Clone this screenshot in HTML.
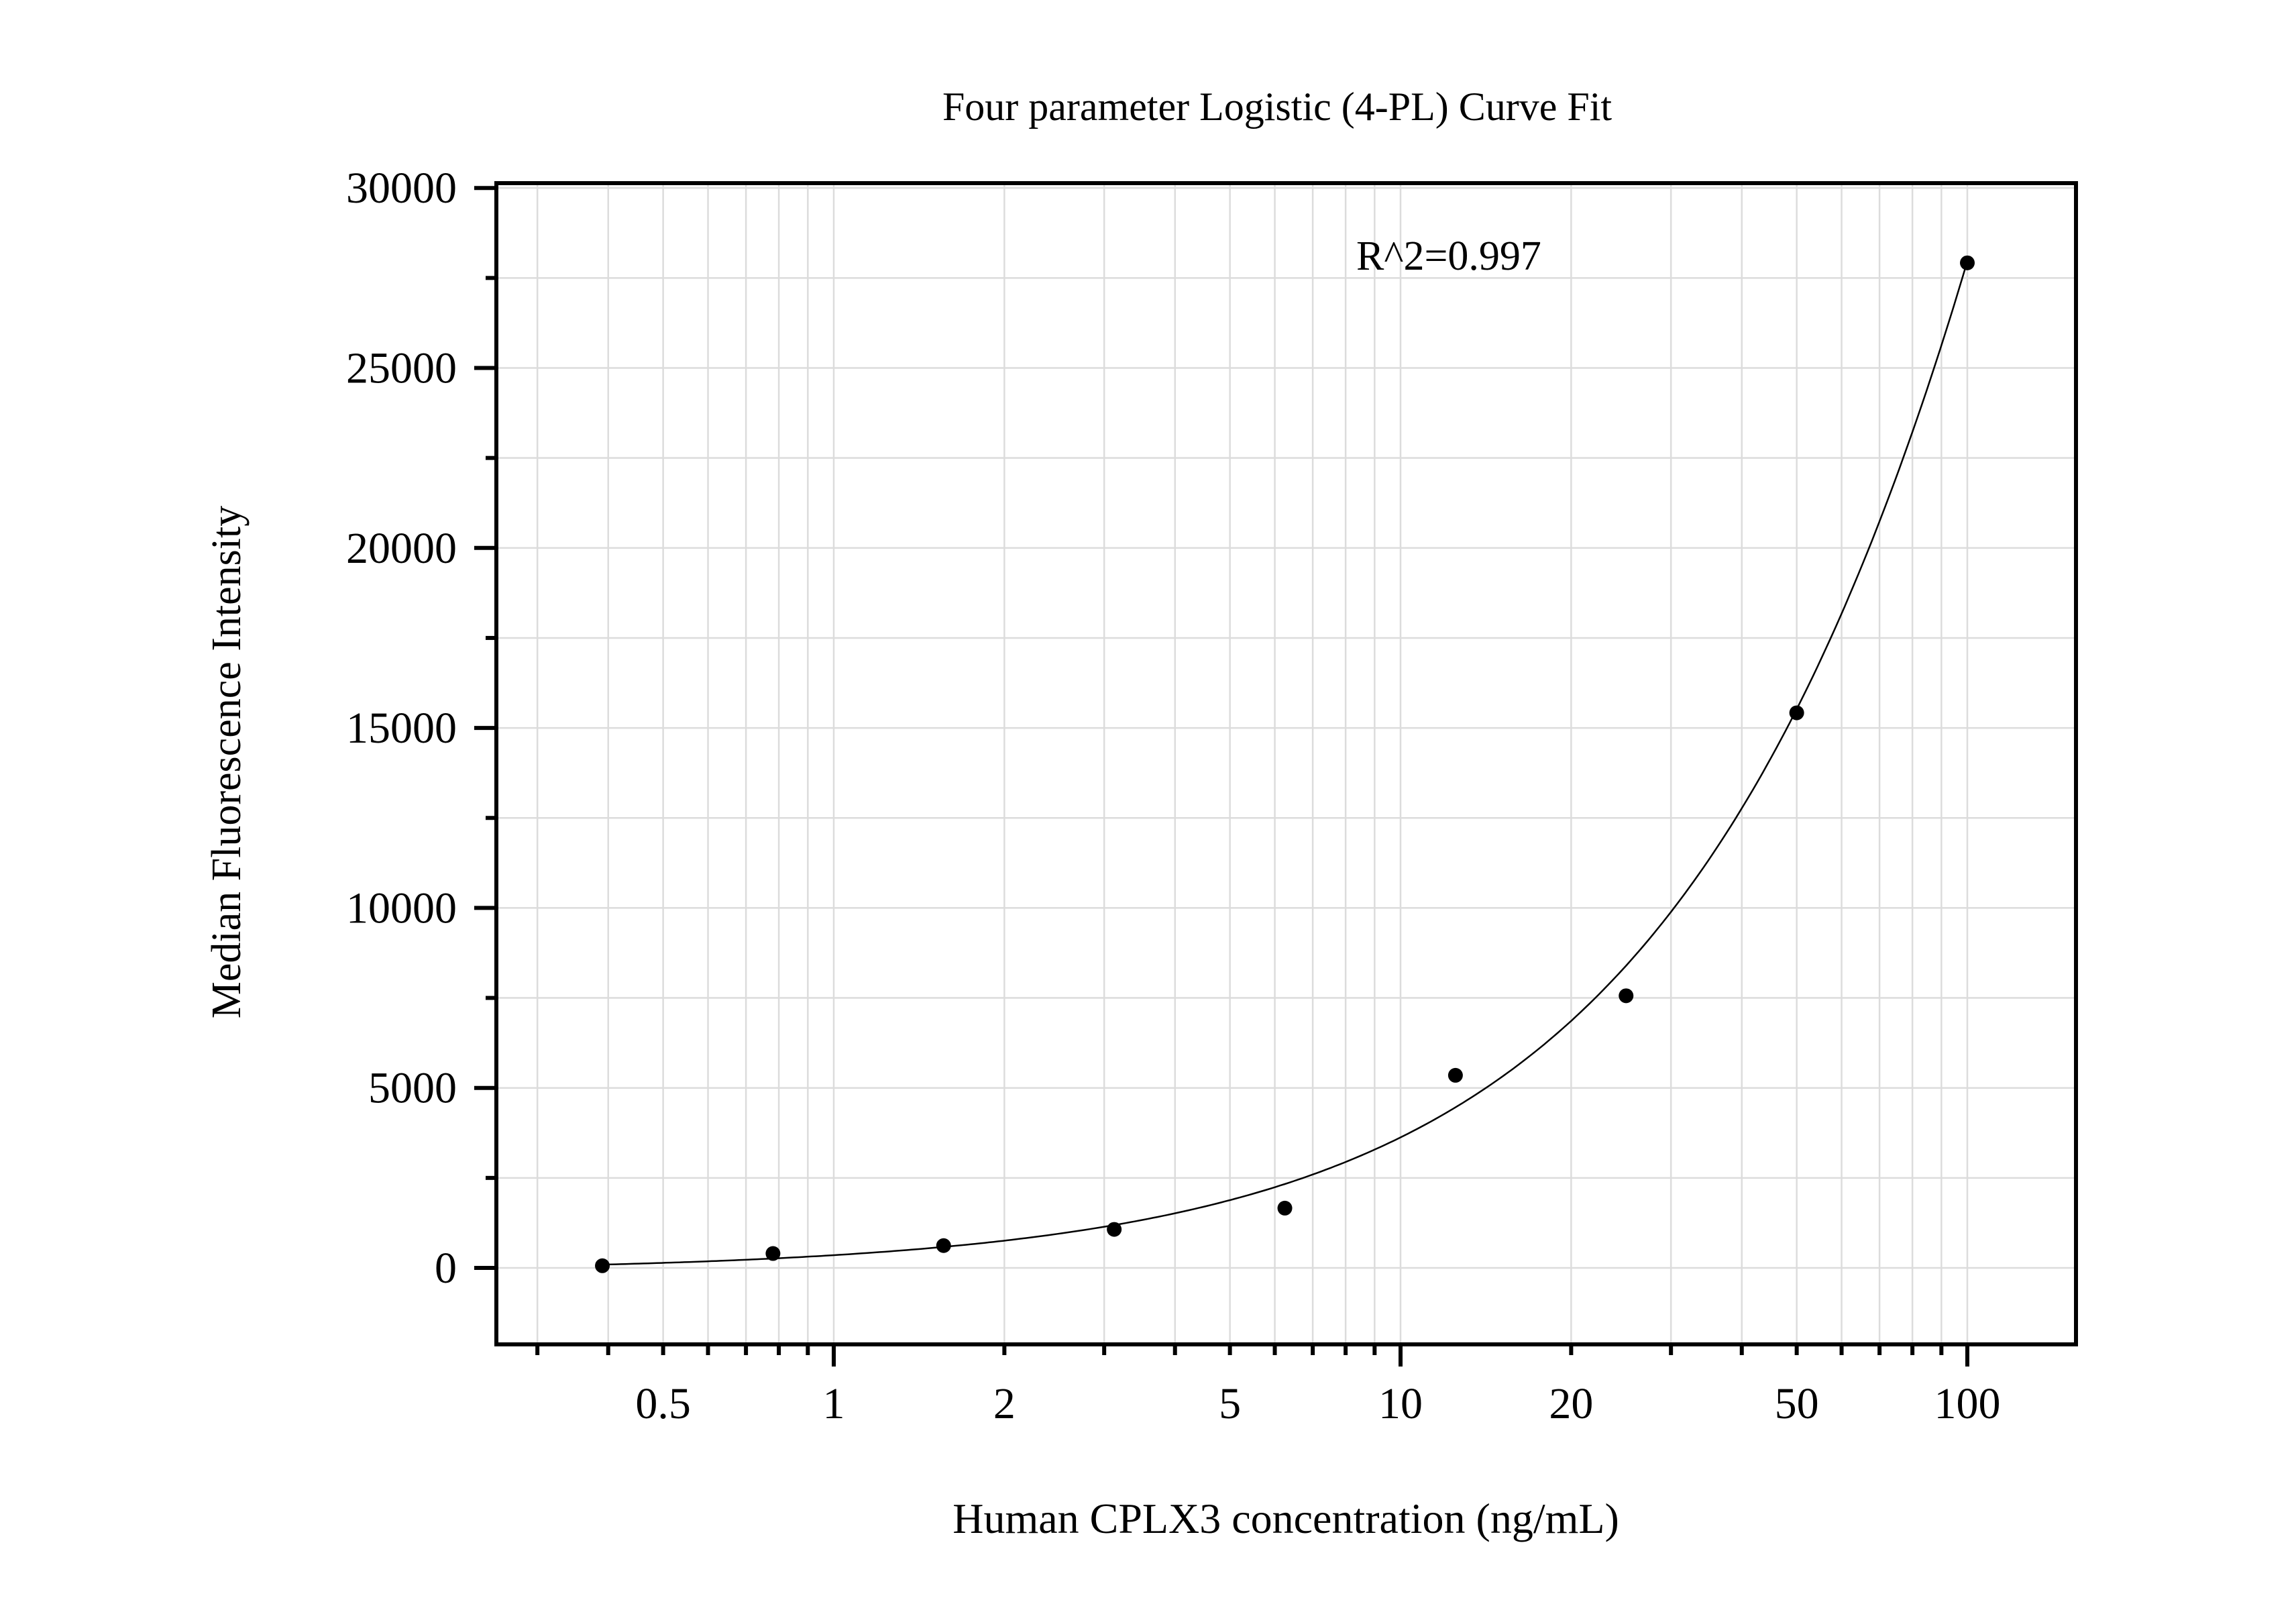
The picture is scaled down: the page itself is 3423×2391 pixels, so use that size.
<!DOCTYPE html>
<html><head><meta charset="utf-8"><style>
html,body{margin:0;padding:0;background:#fff;}
svg{display:block;font-family:"Liberation Serif",serif;}
</style></head><body>
<svg id="chart" width="3423" height="2391" viewBox="0 0 3423 2391" xmlns="http://www.w3.org/2000/svg">
<rect width="3423" height="2391" fill="#fff"/>
<g id="grid"></g>
<g id="ticks"></g>
<g id="series"></g>
<rect x="740" y="273" width="2355" height="1731" fill="none" stroke="#000" stroke-width="6"/>
<text x="1904" y="179" font-size="60" text-anchor="middle">Four parameter Logistic (4-PL) Curve Fit</text>
<text x="2022" y="402" font-size="62">R^2=0.997</text>
<text x="1917" y="2285" font-size="64" text-anchor="middle">Human CPLX3 concentration (ng/mL)</text>
<text x="0" y="0" font-size="62" text-anchor="middle" transform="translate(358,1136) rotate(-90)">Median Fluorescence Intensity</text>
</svg>
<script>
const concentrations = [0.390625, 0.78125, 1.5625, 3.125, 6.25, 12.5, 25, 50, 100];
const mfiValues = [60, 400, 620, 1070, 1660, 5350, 7560, 15420, 27920];
const fitParams = [-100, 0.92, 1000, 261400]; // a (bottom), b (slope), c (ec50), d (top)
const yTickValues = [0, 5000, 10000, 15000, 20000, 25000, 30000];
const xTickLabels = ["0.5", "1", "2", "5", "10", "20", "50", "100"];
const xTickValues = [0.5, 1, 2, 5, 10, 20, 50, 100];

const NS = "http://www.w3.org/2000/svg";
const L = 740, R = 3095, T = 273, B = 2004;
const X1 = 1243, DEC = 845;
const Y0 = 1890, PER = 268.3 / 5000;
function xs(v){ return X1 + Math.log10(v) * DEC; }
function ys(v){ return Y0 - v * PER; }
function mk(tag, attrs, parent){ const e = document.createElementNS(NS, tag); for (const k in attrs) e.setAttribute(k, attrs[k]); parent.appendChild(e); return e; }

const grid = document.getElementById('grid');
const ticks = document.getElementById('ticks');
const series = document.getElementById('series');

// vertical grid + x ticks
for (let e = -1; e <= 2; e++) {
  for (let m = 1; m <= 9; m++) {
    const v = m * Math.pow(10, e);
    const x = xs(v);
    if (x < L + 2 || x > R - 2) continue;
    const g = mk('line', {x1:x, x2:x, y1:T, y2:B, stroke:'#dcdcdc', 'stroke-width':2.5}, grid);
    
    
    const major = (m === 1);
    const t = mk('line', {x1:x, x2:x, y1:B, y2:B + (major ? 33 : 16), stroke:'#000', 'stroke-width':6}, ticks);
    
    
  }
}
// horizontal grid + y ticks
for (let v = 0; v <= 30000; v += 2500) {
  const y = ys(v);
  const g = mk('line', {x1:L, x2:R, y1:y, y2:y, stroke:'#dcdcdc', 'stroke-width':2.5}, grid);
  
  
  const major = (v % 5000 === 0);
  const t = mk('line', {x1:L - (major ? 33 : 16), x2:L, y1:y, y2:y, stroke:'#000', 'stroke-width':6}, ticks);
  
  
}
yTickValues.forEach(v => {
  const t = mk('text', {x:681, y:ys(v) + 22, 'font-size':66, 'text-anchor':'end'}, ticks);
  t.textContent = String(v);
  
  
});
xTickValues.forEach((v, i) => {
  const t = mk('text', {x:xs(v), y:2114, 'font-size':66, 'text-anchor':'middle'}, ticks);
  t.textContent = xTickLabels[i];
  
  
});

// fit curve
function fourPL(x){ const [a,b,c,d] = fitParams; const u = Math.pow(x / c, b); return a + (d - a) * u / (1 + u); }
let dstr = '';
const lo = Math.log10(concentrations[0]), hi = Math.log10(concentrations[concentrations.length - 1]);
for (let i = 0; i <= 300; i++) {
  const lx = lo + (hi - lo) * i / 300;
  const x = Math.pow(10, lx);
  dstr += (i ? 'L' : 'M') + xs(x).toFixed(1) + ',' + ys(fourPL(x)).toFixed(1);
}
const curve = mk('path', {d:dstr, fill:'none', stroke:'#000', 'stroke-width':2.5}, series);



concentrations.forEach((c, i) => {
  const p = mk('circle', {cx:xs(c), cy:ys(mfiValues[i]), r:11, fill:'#000'}, series);
  
  
});
</script>
</body></html>
